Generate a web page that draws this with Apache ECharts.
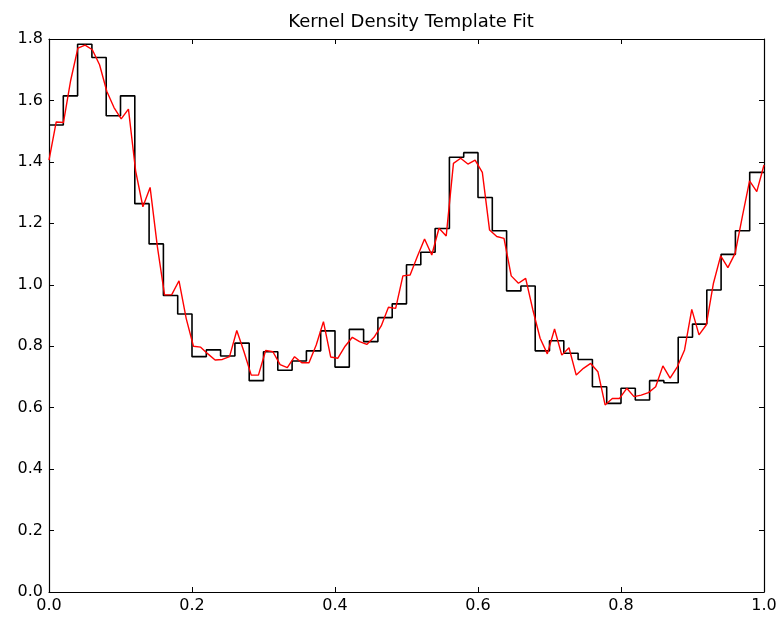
<!DOCTYPE html>
<html>
<head>
<meta charset="utf-8">
<script src="https://cdn.jsdelivr.net/npm/echarts@6/dist/echarts.min.js"></script>
<style>
html,body{margin:0;padding:0;background:#fff;}
#chart{width:781px;height:618px;}
</style>
</head>
<body>
<div id="chart"></div>
<script>
// Histogram (50 bins of width 0.02 over phase 0..1)
const binCount = 50;
const histValues = [
  1.52, 1.615, 1.783, 1.74, 1.55, 1.615, 1.264, 1.133, 0.965, 0.905,
  0.766, 0.788, 0.768, 0.81, 0.688, 0.782, 0.722, 0.752, 0.785, 0.85,
  0.732, 0.855, 0.815, 0.893, 0.938, 1.065, 1.106, 1.183, 1.415, 1.43,
  1.284, 1.176, 0.98, 0.996, 0.785, 0.818, 0.777, 0.757, 0.668, 0.614,
  0.663, 0.625, 0.688, 0.681, 0.829, 0.872, 0.983, 1.099, 1.176, 1.366
];
// Kernel density template evaluated at 100 evenly spaced phases 0..1
const kdeCount = 100;
const kdeValues = [
  1.406, 1.53, 1.528, 1.665, 1.77, 1.78, 1.765, 1.716, 1.63, 1.577,
  1.54, 1.572, 1.37, 1.254, 1.317, 1.125, 0.967, 0.968, 1.013, 0.89,
  0.80, 0.797, 0.775, 0.755, 0.757, 0.766, 0.851, 0.782, 0.706, 0.706,
  0.786, 0.782, 0.74, 0.73, 0.766, 0.746, 0.746, 0.804, 0.88, 0.765,
  0.761, 0.80, 0.829, 0.815, 0.806, 0.829, 0.866, 0.927, 0.923, 1.029,
  1.032, 1.092, 1.149, 1.097, 1.184, 1.159, 1.395, 1.412, 1.393, 1.406,
  1.366, 1.178, 1.157, 1.151, 1.029, 1.005, 1.021, 0.918, 0.826, 0.775,
  0.856, 0.771, 0.795, 0.706, 0.728, 0.744, 0.717, 0.609, 0.63, 0.63,
  0.663, 0.636, 0.641, 0.649, 0.668, 0.736, 0.696, 0.733, 0.788, 0.92,
  0.837, 0.869, 1.005, 1.094, 1.056, 1.102, 1.222, 1.338, 1.303, 1.39
];
const xTicks = [0.0, 0.2, 0.4, 0.6, 0.8, 1.0];
const yTicks = [0.0, 0.2, 0.4, 0.6, 0.8, 1.0, 1.2, 1.4, 1.6, 1.8];

const histData = histValues.map((v, i) => [i / binCount, v]);
histData.push([1.0, histValues[histValues.length - 1]]);
const kdeData = kdeValues.map((v, i) => [i / (kdeCount - 1), v]);

const font = 'DejaVu Sans';
const chart = echarts.init(document.getElementById('chart'), null, {renderer: 'canvas'});

function axisBase(pos, showLabel, isX) {
  return {
    type: 'value',
    position: pos,
    min: 0,
    max: isX ? 1 : 1.8,
    interval: 0.2,
    axisLine: {show: true, onZero: false, lineStyle: {color: '#000', width: 1.2}},
    axisTick: {show: true, inside: true, length: 5, lineStyle: {color: '#000', width: 1}},
    splitLine: {show: false},
    axisLabel: {
      show: showLabel,
      color: '#000',
      fontFamily: font,
      fontSize: 16,
      margin: isX ? 6 : 6,
      formatter: v => v.toFixed(1)
    }
  };
}

chart.setOption({
  backgroundColor: '#fff',
  animation: false,
  title: {
    text: 'Kernel Density Template Fit',
    left: 406,
    textAlign: 'center',
    top: 8,
    textStyle: {fontFamily: font, fontSize: 18, fontWeight: 'normal', color: '#000'}
  },
  grid: {left: 49, right: 17, top: 39, bottom: 26, containLabel: false},
  xAxis: [axisBase('bottom', true, true), axisBase('top', false, true)],
  yAxis: [axisBase('left', true, false), axisBase('right', false, false)],
  series: [
    {
      type: 'line',
      step: 'end',
      data: histData,
      xAxisIndex: 0,
      yAxisIndex: 0,
      symbol: 'none',
      lineStyle: {color: '#000', width: 1.6},
      z: 2
    },
    {
      type: 'line',
      data: kdeData,
      xAxisIndex: 0,
      yAxisIndex: 0,
      symbol: 'none',
      lineStyle: {color: '#ff0000', width: 1.4},
      z: 3
    }
  ]
});
</script>
</body>
</html>
